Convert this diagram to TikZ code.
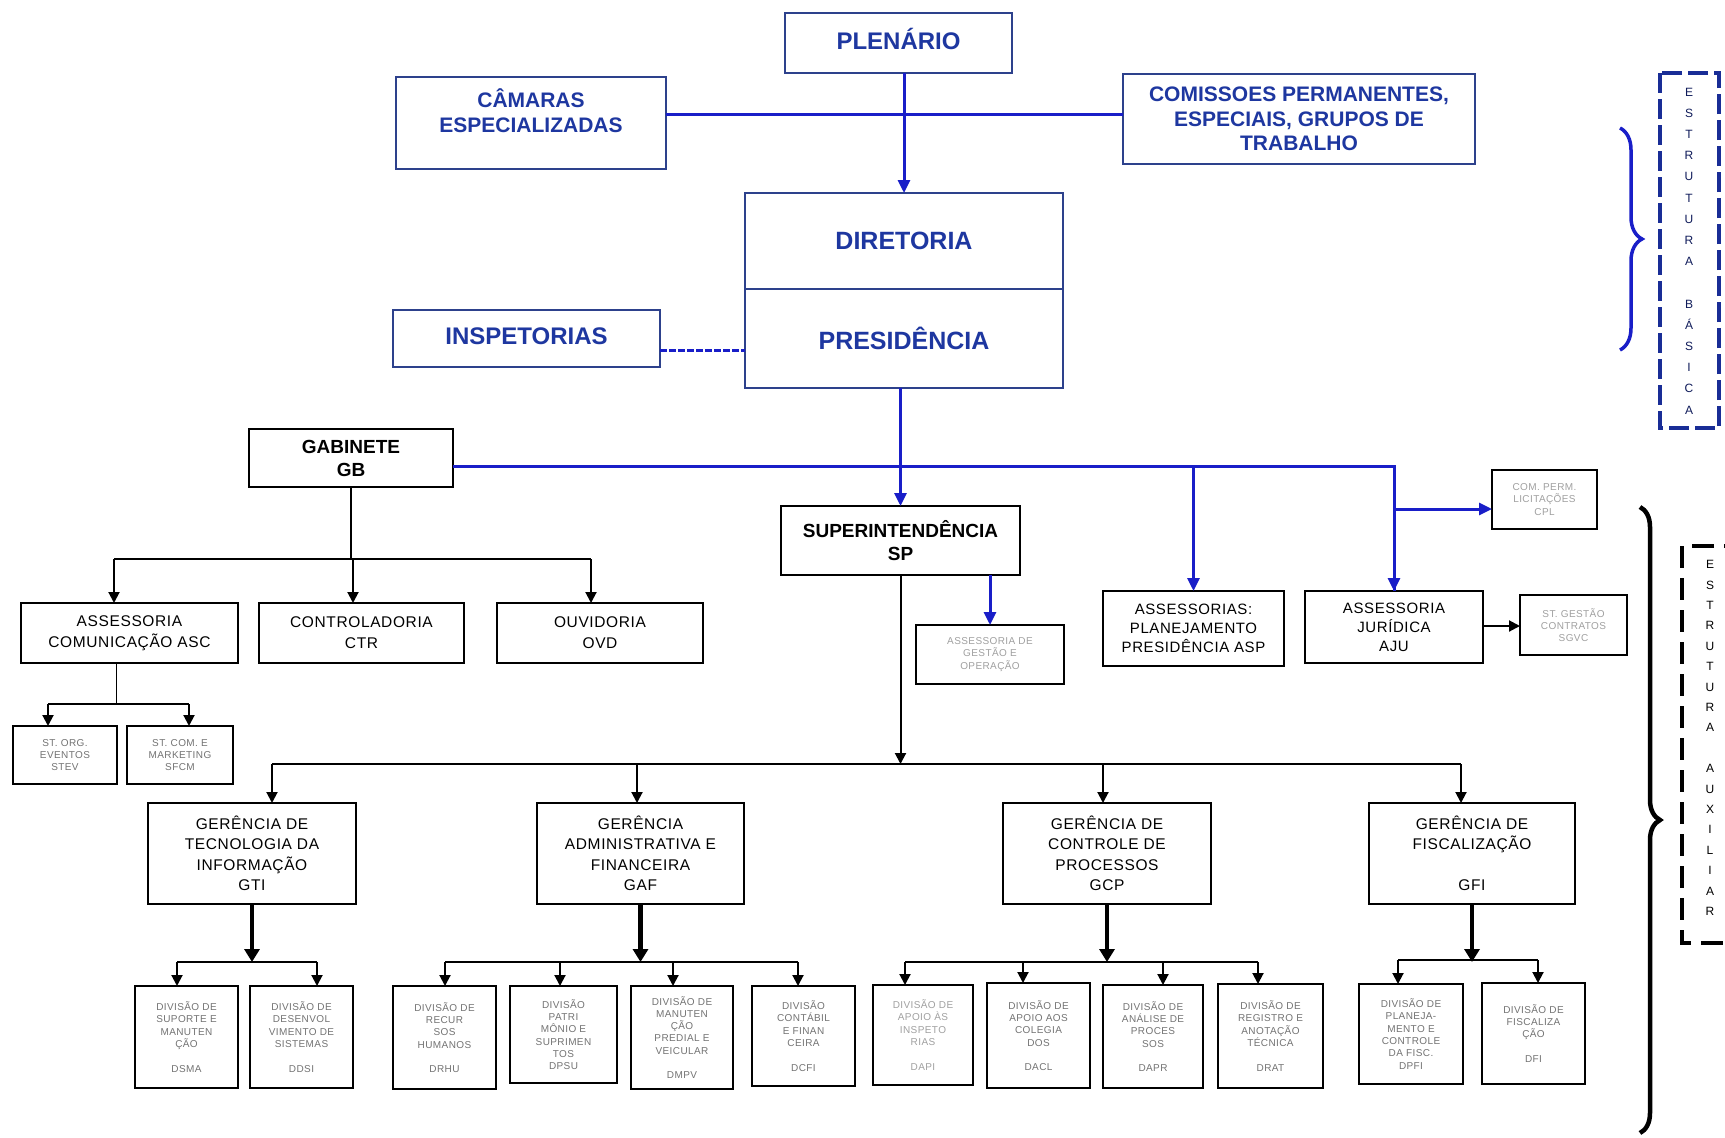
\documentclass[tikz,border=0pt]{standalone}
\usepackage{fontspec}
\setmainfont{Liberation Sans}
\newfontfamily\rfont[LetterSpace=4]{Liberation Sans}
\usetikzlibrary{arrows.meta,decorations.pathreplacing}
\definecolor{lineblue}{RGB}{25,30,200}
\definecolor{textblue}{RGB}{30,55,160}
\definecolor{boxblue}{RGB}{45,65,140}
\definecolor{greytext}{RGB}{115,115,115}
\definecolor{lighttext}{RGB}{160,160,160}
\definecolor{dashblue}{RGB}{25,45,150}
\newcommand\bx[7]{\node[#6, minimum width={#4-#2}, minimum height={#5-#3}] (#1) at (#2,#3) {#7};}
\begin{document}
\begin{tikzpicture}[x=1pt,y=-1pt,
  box/.style={anchor=north west, inner sep=0pt, outer sep=0pt, align=center},
  bluebox/.style={box, draw=boxblue, line width=1.5pt, text=textblue, font=\bfseries\fontsize{21}{24.5}\selectfont},
  blackbold/.style={box, draw=black, line width=1.5pt, font=\bfseries\fontsize{19}{23}\selectfont},
  midbox/.style={box, draw=black, line width=1.5pt, font=\rfont\fontsize{15.5}{21}\selectfont},
  gerbox/.style={midbox, font=\rfont\fontsize{15.5}{20.5}\selectfont},
  smallbox/.style={box, draw=black, line width=1.3pt, text=greytext, font=\rfont\fontsize{10}{12.3}\selectfont},
  lightbox/.style={smallbox, text=lighttext},
  bl/.style={draw=lineblue, line width=3pt},
  blarrow/.style={bl, -{Triangle[length=13pt,width=12pt]}},
  bk/.style={draw=black, line width=2pt},
  bkarrow/.style={bk, -{Triangle[length=11pt,width=11pt]}},
  thk/.style={draw=black, line width=4.5pt, -{Triangle[length=13pt,width=15pt]}},
  letters/.style={align=center, inner sep=0pt}
]
\useasboundingbox (0,0) rectangle (1725,1138);
\fill[white] (0,0) rectangle (1725,1138);

% ---------- upper (blue) level ----------
\bx{plen}{785}{13}{1012}{73}{bluebox, font=\bfseries\fontsize{24}{28}\selectfont}{\raisebox{8pt}{PLENÁRIO}}
\bx{cam}{396}{77}{666}{169}{bluebox}{CÂMARAS\\ESPECIALIZADAS\\\mbox{}}
\bx{com}{1123}{74}{1475}{164}{bluebox}{COMISSOES PERMANENTES,\\ESPECIAIS, GRUPOS DE\\TRABALHO}
\bx{dir}{745}{193}{1063}{289}{bluebox, font=\bfseries\fontsize{25}{28}\selectfont}{\raisebox{-6pt}{DIRETORIA}}
\bx{pres}{745}{289}{1063}{388}{bluebox, font=\bfseries\fontsize{25}{28}\selectfont}{PRESIDÊNCIA}
\bx{insp}{393}{310}{660}{367}{bluebox, font=\bfseries\fontsize{24}{28}\selectfont}{\raisebox{4pt}{INSPETORIAS}}

\coordinate (ch) at (0,114);
\draw[bl] (cam.east |- ch) -- (com.west |- ch);
\draw[blarrow] (dir.north |- plen.south) -- (dir.north);
\coordinate (ih) at (0,350);
\draw[bl, dash pattern=on 7pt off 2pt] (insp.east |- ih) -- (pres.west |- ih);

% ---------- middle level ----------
\bx{gb}{249}{429}{453}{487}{blackbold}{GABINETE\\GB}
\bx{sp}{781}{506}{1020}{575}{blackbold}{SUPERINTENDÊNCIA\\SP}
\bx{ago}{916}{625}{1064}{684}{lightbox}{ASSESSORIA DE\\GESTÃO E\\OPERAÇÃO}
\bx{cpl}{1492}{470}{1597}{529}{lightbox}{COM. PERM.\\LICITAÇÕES\\CPL}
\bx{asp}{1103}{591}{1284}{666}{midbox, font=\rfont\fontsize{15}{19}\selectfont}{ASSESSORIAS:\\PLANEJAMENTO\\PRESIDÊNCIA ASP}
\bx{aju}{1305}{591}{1483}{663}{midbox, font=\rfont\fontsize{15}{19}\selectfont}{ASSESSORIA\\JURÍDICA\\AJU}
\bx{sgvc}{1520}{595}{1627}{655}{lightbox}{ST. GESTÃO\\CONTRATOS\\SGVC}

\coordinate (hy) at (0,466);
\draw[blarrow] (sp.north |- pres.south) -- (sp.north);
\draw[bl] (gb.east |- hy) -- (aju.north |- hy) -- (aju.north);
\draw[blarrow] ([yshift=-1pt]aju.north |- hy) -- (aju.north);
\draw[blarrow] (asp.north |- hy) -- (asp.north);
\coordinate (cy) at (0,509);
\draw[blarrow] (aju.north |- cy) -- (cpl.west |- cy);
\draw[blarrow] (sp.south -| ago.north) -- (ago.north);
\draw[bkarrow] (aju.east |- 0,626) -- (sgvc.west |- 0,626);

\bx{asc}{21}{603}{238}{663}{midbox}{ASSESSORIA\\COMUNICAÇÃO ASC}
\bx{ctr}{259}{603}{464}{663}{midbox}{CONTROLADORIA\\CTR}
\bx{ovd}{497}{603}{703}{663}{midbox}{OUVIDORIA\\OVD}
\bx{stev}{13}{726}{117}{784}{smallbox}{ST. ORG.\\EVENTOS\\STEV}
\bx{sfcm}{127}{726}{233}{784}{smallbox}{ST. COM. E\\MARKETING\\SFCM}

\coordinate (g1) at (114,559);
\coordinate (g2) at (353,559);
\coordinate (g3) at (591,559);
\draw[bk] (gb.south) -- (gb.south |- g2);
\draw[bk] (g1) -- (g3);
\draw[bkarrow] (g1) -- (g1 |- asc.north);
\draw[bkarrow] (g2) -- (g2 |- ctr.north);
\draw[bkarrow] (g3) -- (g3 |- ovd.north);

\coordinate (a0) at (116,704);
\coordinate (a1) at (48,704);
\coordinate (a2) at (189,704);
\draw[black, line width=1pt] (a0 |- asc.south) -- (a0);
\draw[bk] (a1) -- (a2);
\draw[bkarrow] (a1) -- (a1 |- stev.north);
\draw[bkarrow] (a2) -- (a2 |- sfcm.north);

% ---------- gerencias ----------
\bx{gti}{148}{803}{356}{904}{gerbox}{GERÊNCIA DE\\TECNOLOGIA DA\\INFORMAÇÃO\\GTI}
\bx{gaf}{537}{803}{744}{904}{gerbox}{GERÊNCIA\\ADMINISTRATIVA E\\FINANCEIRA\\GAF}
\bx{gcp}{1003}{803}{1211}{904}{gerbox}{GERÊNCIA DE\\CONTROLE DE\\PROCESSOS\\GCP}
\bx{gfi}{1369}{803}{1575}{904}{gerbox}{GERÊNCIA DE\\FISCALIZAÇÃO\\[20.5pt]GFI}

\coordinate (m1) at (272,764);
\coordinate (m2) at (637,764);
\coordinate (m3) at (1103,764);
\coordinate (m4) at (1461,764);
\draw[bkarrow] (sp.south) -- (sp.south |- m1);
\draw[bk] (m1) -- (m4);
\draw[bkarrow] (m1) -- (m1 |- gti.north);
\draw[bkarrow] (m2) -- (m2 |- gaf.north);
\draw[bkarrow] (m3) -- (m3 |- gcp.north);
\draw[bkarrow] (m4) -- (m4 |- gfi.north);

% ---------- divisions ----------
\bx{dsma}{135}{986}{238}{1088}{smallbox}{DIVISÃO DE\\SUPORTE E\\MANUTEN\\ÇÃO\\[12.3pt]DSMA}
\bx{ddsi}{250}{986}{353}{1088}{smallbox}{DIVISÃO DE\\DESENVOL\\VIMENTO DE\\SISTEMAS\\[12.3pt]DDSI}
\bx{drhu}{393}{986}{496}{1089}{smallbox}{DIVISÃO DE\\RECUR\\SOS\\HUMANOS\\[12.3pt]DRHU}
\bx{dpsu}{510}{986}{617}{1083}{smallbox}{DIVISÃO\\PATRI\\MÔNIO E\\SUPRIMEN\\TOS\\DPSU}
\bx{dmpv}{631}{986}{733}{1089}{smallbox}{DIVISÃO DE\\MANUTEN\\ÇÃO\\PREDIAL E\\VEICULAR\\[12.3pt]DMPV}
\bx{dcfi}{752}{986}{855}{1086}{smallbox}{DIVISÃO\\CONTÁBIL\\E FINAN\\CEIRA\\[12.3pt]DCFI}
\bx{dapi}{873}{985}{973}{1085}{lightbox}{DIVISÃO DE\\APOIO ÀS\\INSPETO\\RIAS\\[12.3pt]DAPI}
\bx{dacl}{987}{983}{1090}{1088}{smallbox}{DIVISÃO DE\\APOIO AOS\\COLEGIA\\DOS\\[12.3pt]DACL}
\bx{dapr}{1103}{985}{1203}{1088}{smallbox}{DIVISÃO DE\\ANÁLISE DE\\PROCES\\SOS\\[12.3pt]DAPR}
\bx{drat}{1218}{984}{1323}{1088}{smallbox}{DIVISÃO DE\\REGISTRO E\\ANOTAÇÃO\\TÉCNICA\\[12.3pt]DRAT}
\bx{dpfi}{1359}{984}{1463}{1084}{smallbox}{DIVISÃO DE\\PLANEJA-\\MENTO E\\CONTROLE\\DA FISC.\\DPFI}
\bx{dfi}{1482}{983}{1585}{1084}{smallbox}{DIVISÃO DE\\FISCALIZA\\ÇÃO\\[12.3pt]DFI}

\coordinate (t1) at (0,962);
% GTI
\draw[thk] (gti.south) -- (gti.south |- t1);
\draw[bk] (177,962) coordinate (t1a) -- (317,962) coordinate (t1b);
\draw[bkarrow] (t1a) -- (t1a |- dsma.north);
\draw[bkarrow] (t1b) -- (t1b |- ddsi.north);
% GAF
\draw[thk] (gaf.south) -- (gaf.south |- t1);
\draw[bk] (445,962) coordinate (t2a) -- (798,962) coordinate (t2d);
\coordinate (t2b) at (560,962);
\coordinate (t2c) at (673,962);
\draw[bkarrow] (t2a) -- (t2a |- drhu.north);
\draw[bkarrow] (t2b) -- (t2b |- dpsu.north);
\draw[bkarrow] (t2c) -- (t2c |- dmpv.north);
\draw[bkarrow] (t2d) -- (t2d |- dcfi.north);
% GCP
\draw[thk] (gcp.south) -- (gcp.south |- t1);
\draw[bk] (905,962) coordinate (t3a) -- (1258,962) coordinate (t3d);
\coordinate (t3b) at (1023,962);
\coordinate (t3c) at (1163,962);
\draw[bkarrow] (t3a) -- (t3a |- dapi.north);
\draw[bkarrow] (t3b) -- (t3b |- dacl.north);
\draw[bkarrow] (t3c) -- (t3c |- dapr.north);
\draw[bkarrow] (t3d) -- (t3d |- drat.north);
% GFI
\draw[thk] (gfi.south) -- (gfi.south |- t1);
\draw[bk] (1398,960) coordinate (t4a) -- (1538,960) coordinate (t4b);
\draw[bkarrow] (t4a) -- (t4a |- dpfi.north);
\draw[bkarrow] (t4b) -- (t4b |- dfi.north);

% ---------- side marks ----------
\draw[dashblue, line width=4pt, dash pattern=on 20pt off 6pt] (1660,73) rectangle (1719,428);
\node[letters, text=dashblue!60!black, font=\fontsize{12}{21.2}\selectfont] (eb) at (1689,251)
  {E\\S\\T\\R\\U\\T\\U\\R\\A\\[21.2pt]B\\Á\\S\\I\\C\\A};
\draw[lineblue, line width=3.5pt, decorate, decoration={brace, amplitude=22pt}] (1620,128) -- (1620,350);

\draw[black, line width=4pt, dash pattern=on 22pt off 10pt] (1682,546) rectangle (1765,943);
\node[letters, font=\fontsize{12}{20.4}\selectfont] (ea) at (1710,738)
  {E\\S\\T\\R\\U\\T\\U\\R\\A\\[20.4pt]A\\U\\X\\I\\L\\I\\A\\R};
\draw[black, line width=4.5pt, decorate, decoration={brace, amplitude=20pt}] (1640,507) -- (1640,1133);
\end{tikzpicture}
\end{document}
